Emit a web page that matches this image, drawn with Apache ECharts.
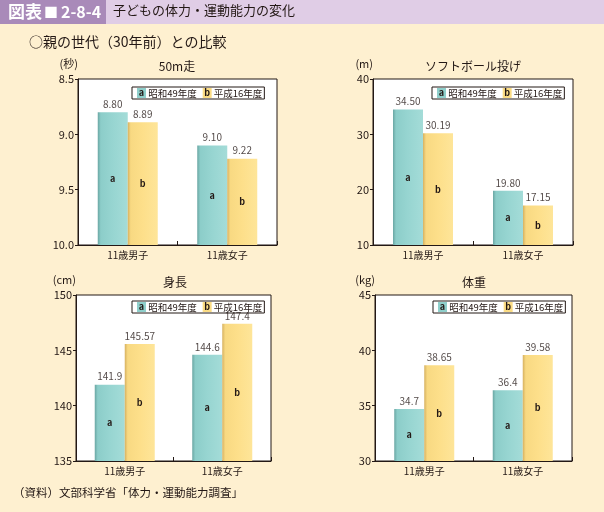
<!DOCTYPE html>
<html><head><meta charset="utf-8">
<script src="https://cdn.jsdelivr.net/npm/echarts@6/dist/echarts.min.js"></script>
<style>html,body{margin:0;padding:0;background:#fef0d0}#c{width:604px;height:512px}</style>
</head><body><div id="c"></div>
<script>
// ---- data ----
const categories = ['11歳男子', '11歳女子'];
const seriesNames = ['昭和49年度', '平成16年度'];
const run50m_S49 = ['8.80', '9.10'];
const run50m_H16 = ['8.89', '9.22'];
const softball_S49 = ['34.50', '19.80'];
const softball_H16 = ['30.19', '17.15'];
const height_S49 = ['141.9', '144.6'];
const height_H16 = ['145.57', '147.4'];
const weight_S49 = ['34.7', '36.4'];
const weight_H16 = ['38.65', '39.58'];
const panelTitles = ['50m走', 'ソフトボール投げ', '身長', '体重'];
const unitNames = ['(秒)', '(m)', '(cm)', '(kg)'];
const axisMin = [8.5, 10, 135, 30];
const axisMax = [10, 40, 150, 45];
const axisInterval = [0.5, 10, 5, 5];
const axisDecimals = [1, 0, 0, 0];
const axisInverse = [true, false, false, false];
const barStart = [10, 10, 135, 30];

const panelS49 = [run50m_S49, softball_S49, height_S49, weight_S49];
const panelH16 = [run50m_H16, softball_H16, height_H16, weight_H16];

// ---- layout ----
const FONT = '"Noto Sans CJK JP", "Noto Sans", sans-serif';
const TXT = '#231815';
const grids = [
  {left: 78, top: 79, width: 199, height: 166},
  {left: 373, top: 79, width: 200, height: 166},
  {left: 76, top: 295, width: 195, height: 166},
  {left: 375, top: 295, width: 197, height: 166}
];
const titlePos = [[177, 60], [473, 60], [175, 276], [474, 276]];
const legendPos = [[132, 87], [432, 87], [132, 301], [433, 301]];

const tealGrad = new echarts.graphic.LinearGradient(0, 0, 1, 0, [
  {offset: 0, color: '#6aa6a3'}, {offset: 0.1, color: '#8ccdc9'},
  {offset: 0.5, color: '#97d5d1'}, {offset: 1, color: '#a4dcd8'}]);
const yellowGrad = new echarts.graphic.LinearGradient(0, 0, 1, 0, [
  {offset: 0, color: '#d6b160'}, {offset: 0.1, color: '#f8d982'},
  {offset: 0.5, color: '#fddf8a'}, {offset: 1, color: '#fee599'}]);

const xAxes = [], yAxes = [], series = [], titles = [], legends = [];
grids.forEach((g, i) => {
  xAxes.push({
    type: 'category', gridIndex: i, data: categories,
    axisLine: {show: true, lineStyle: {color: TXT, width: 1}},
    axisTick: {show: true, inside: true, length: 4, lineStyle: {color: TXT}},
    axisLabel: {fontSize: 10, color: TXT, margin: 5, fontFamily: FONT}
  });
  yAxes.push({
    type: 'value', gridIndex: i, min: axisMin[i], max: axisMax[i], interval: axisInterval[i],
    inverse: axisInverse[i], startValue: barStart[i],
    name: unitNames[i], nameLocation: axisInverse[i] ? 'start' : 'end', nameGap: 15,
    nameTextStyle: {fontSize: 11, color: TXT, align: 'right', verticalAlign: 'middle', fontFamily: FONT},
    axisLine: {show: true, lineStyle: {color: TXT, width: 1}},
    axisTick: {show: true, length: 3, lineStyle: {color: TXT}},
    splitLine: {show: false},
    axisLabel: {fontSize: 11, color: TXT, margin: 4, fontFamily: FONT,
      formatter: v => v.toFixed(axisDecimals[i])}
  });
  const sets = [panelS49[i], panelH16[i]];
  sets.forEach((arr, k) => {
    series.push({
      type: 'bar', name: seriesNames[k], xAxisIndex: i, yAxisIndex: i,
      data: arr.map(Number), barWidth: 30, barGap: '0%',
      itemStyle: {color: k === 0 ? tealGrad : yellowGrad},
      label: {show: true, position: 'inside', formatter: k === 0 ? 'a' : 'b',
        fontSize: 9, fontWeight: 'bold', color: TXT, fontFamily: FONT},
      silent: true
    });
  });
  sets.forEach((arr, k) => {
    series.push({
      type: 'scatter', name: 'label' + k, xAxisIndex: i, yAxisIndex: i,
      data: arr.map(Number), symbolSize: 0, itemStyle: {color: 'transparent'}, z: 5,
      label: {show: true, position: 'top', distance: 3, offset: [k === 0 ? -15 : 15, 0],
        formatter: p => arr[p.dataIndex], fontSize: 10, color: TXT, fontFamily: FONT},
      silent: true
    });
  });
  titles.push({
    text: panelTitles[i], left: titlePos[i][0], top: titlePos[i][1], textAlign: 'center', padding: 0,
    textStyle: {fontSize: 12, fontWeight: 'normal', color: TXT, fontFamily: FONT}
  });
  legends.push({
    data: seriesNames, left: legendPos[i][0], top: legendPos[i][1], selectedMode: false,
    itemWidth: 0, itemHeight: 0, itemGap: 1, padding: [1, 2, 1, 0],
    backgroundColor: '#fff', borderColor: TXT, borderWidth: 1, borderRadius: 0,
    formatter: name => (name === seriesNames[0] ? '{ta|a}' : '{tb|b}') + ' ' + name,
    textStyle: {fontSize: 9.5, color: TXT, fontFamily: FONT, rich: {
      ta: {backgroundColor: '#8fcfcb', width: 9, height: 10, lineHeight: 10, align: 'center', fontSize: 9, fontWeight: 'bold', color: TXT},
      tb: {backgroundColor: '#fbdc84', width: 9, height: 10, lineHeight: 10, align: 'center', fontSize: 9, fontWeight: 'bold', color: TXT}
    }}
  });
});

titles.push(
  {text: '{a|図表}{s|■}{n|2-8-4}', left: 8, top: 3, padding: 0,
   textStyle: {color: '#fff', fontFamily: FONT, rich: {
     a: {fontSize: 17, fontWeight: 'bold', color: '#fff', fontFamily: FONT},
     s: {fontSize: 14, color: '#fff', padding: [0, 3, 0, 2], fontFamily: FONT},
     n: {fontSize: 16, fontWeight: 'bold', color: '#fff', fontFamily: FONT}
   }}},
  {text: '子どもの体力・運動能力の変化', left: 113, top: 4, padding: 0,
   textStyle: {fontSize: 13, fontWeight: 'normal', color: TXT, fontFamily: FONT}},
  {text: '○親の世代（30年前）との比較', left: 29, top: 35, padding: 0,
   textStyle: {fontSize: 14, fontWeight: 'normal', color: TXT, fontFamily: FONT}},
  {text: '（資料）文部科学省「体力・運動能力調査」', left: 13, top: 487, padding: 0,
   textStyle: {fontSize: 11.5, fontWeight: 'normal', color: TXT, fontFamily: FONT}}
);

const chart = echarts.init(document.getElementById('c'), null, {renderer: 'canvas'});
chart.setOption({
  backgroundColor: '#fef0d0',
  animation: false,
  textStyle: {fontFamily: FONT},
  graphic: [
    {type: 'rect', z: 0, shape: {x: 0, y: 0, width: 604, height: 24}, style: {fill: '#e0cde6'}},
    {type: 'rect', z: 0, shape: {x: 0, y: 0, width: 106, height: 24}, style: {fill: '#a98ab9'}}
  ],
  title: titles,
  legend: legends,
  grid: grids.map(g => Object.assign({show: true, backgroundColor: '#fff', borderColor: TXT, borderWidth: 1}, g)),
  xAxis: xAxes,
  yAxis: yAxes,
  series: series
});
</script></body></html>
